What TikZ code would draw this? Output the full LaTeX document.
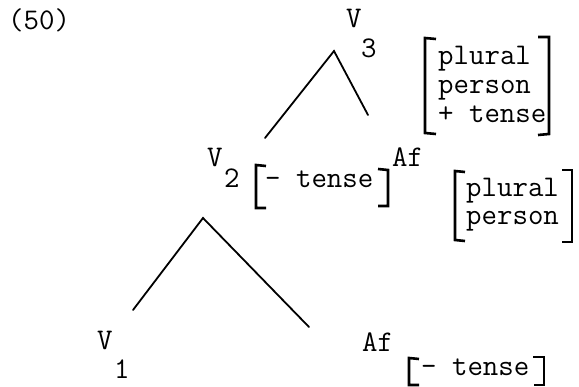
\documentclass[tikz,border=0pt]{standalone}
\begin{document}
\begin{tikzpicture}[x=1pt,y=-1pt,
  lbl/.style={font=\fontsize{30}{31}\selectfont\ttfamily, inner sep=0pt, anchor=base west},
  branch/.style={line width=1.8pt, line cap=round},
  brk/.style={line width=2.6pt, line join=miter}]
\useasboundingbox (0,0) rectangle (579,387);
% example number
\node[lbl] (ex) at (8,30) {(50)};
% top V3
\node[lbl] (v3) at (346,28) {V};
\node[lbl] (v3i) at (361,58) {3};
\node[lbl] (f1a) at (438,65) {plural};
\node[lbl] (f1b) at (438,94) {person};
\node[lbl] (f1c) at (438,123) {+ tense};
\draw[brk] (436,39) -- (425,38) -- (425,133) -- (436,134);
\draw[brk] (538,37) -- (549,37) -- (549,134) -- (538,135);
% tree top
\coordinate (t3) at (334,51);
\coordinate (t3l) at (265,138);
\coordinate (t3r) at (368,115);
\draw[branch] (t3l) -- (t3) -- (t3r);
% V2 and Af
\node[lbl] (v2) at (207,167) {V};
\node[lbl] (v2i) at (224,188) {2};
\node[lbl] (f2) at (265,188) {- tense};
\draw[brk] (266,166) -- (256,165) -- (256,208) -- (266,208);
\draw[brk] (378,169) -- (388,170) -- (388,206) -- (378,206);
\node[lbl] (af2) at (392,167) {Af};
\node[lbl] (f3a) at (466,197) {plural};
\node[lbl] (f3b) at (466,225) {person};
\draw[brk] (465,172) -- (455,171) -- (455,240) -- (465,241);
\draw[brk] (562,170) -- (572,170) -- (572,242) -- (562,242);
% lower tree
\coordinate (t2) at (203,218);
\coordinate (t2l) at (133,310);
\coordinate (t2r) at (309,327);
\draw[branch] (t2l) -- (t2) -- (t2r);
% V1 and Af
\node[lbl] (v1) at (97,350) {V};
\node[lbl] (v1i) at (114,379) {1};
\node[lbl] (af1) at (362,352) {Af};
\node[lbl] (f4) at (421,376) {- tense};
\draw[brk] (419,359) -- (409,358) -- (409,385) -- (419,385);
\draw[brk] (533,357) -- (544,357) -- (544,385) -- (534,385);
\end{tikzpicture}
\end{document}
